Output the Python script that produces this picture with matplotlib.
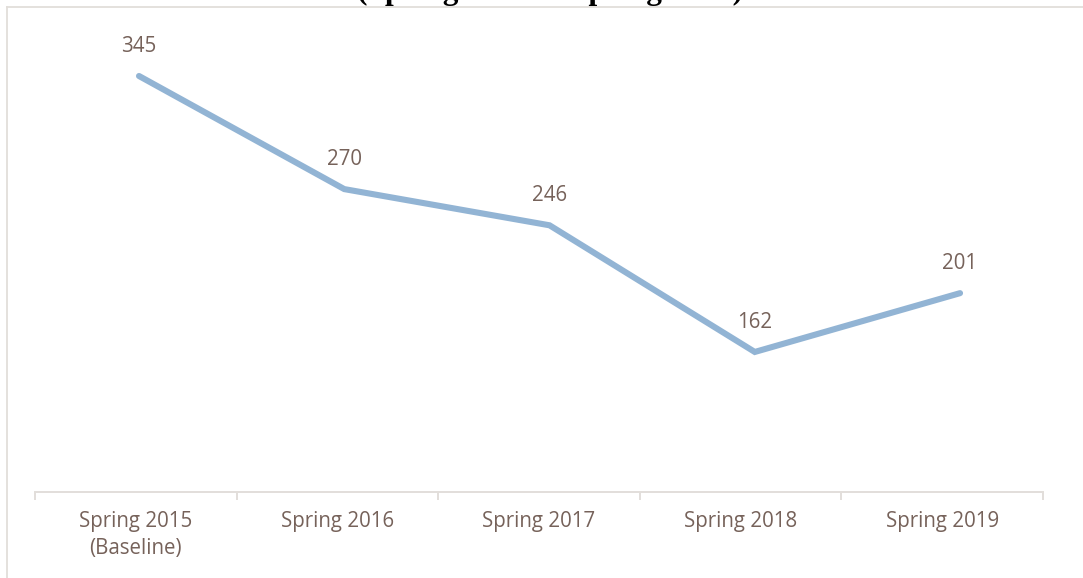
import matplotlib
matplotlib.use("Agg")
import matplotlib.pyplot as plt
from matplotlib.lines import Line2D
import numpy as np

categories = ["Spring 2015\n(Baseline)", "Spring 2016", "Spring 2017", "Spring 2018", "Spring 2019"]
values = [345, 270, 246, 162, 201]
title = "(Spring 2015 to Spring 2019)"

W, H = 1083, 578
TEXT = "#76625A"
LINE = "#92B4D4"
GRID = "#E2DEDA"
FONT = "Open Sans"
FS = 14.8

fig = plt.figure(figsize=(W / 100, H / 100), dpi=100)

# chart border (top and left visible)
fig.add_artist(Line2D([6.7 / W, 1.0], [1 - 7.3 / H, 1 - 7.3 / H], transform=fig.transFigure,
                      color=GRID, lw=1.3))
fig.add_artist(Line2D([6.7 / W, 6.7 / W], [0, 1 - 7.3 / H], transform=fig.transFigure,
                      color=GRID, lw=1.3))

# title, mostly cut off at the top as in the reference
fig.text(550 / W, 1.0 + 1.5 / H, title, ha="center", va="baseline", fontsize=22.6,
         fontweight="bold", family="Liberation Serif", color="black")

# category axis
ax = fig.add_axes([35 / W, 86 / H, 1008 / W, 300 / H])
ax.patch.set_alpha(0)
for s in ["top", "left", "right"]:
    ax.spines[s].set_visible(False)
ax.spines["bottom"].set_color(GRID)
ax.spines["bottom"].set_linewidth(1.4)
x = np.arange(len(categories))
ax.set_xlim(-0.5, len(categories) - 0.5)
ax.set_xticks(np.arange(-0.5, len(categories), 1.0))
ax.set_xticklabels([])
ax.tick_params(axis="x", which="major", length=5.8, width=1.4, color=GRID)
ax.set_xticks(x, minor=True)
ax.set_xticklabels(categories, minor=True, fontsize=FS, family=FONT, color=TEXT,
                   linespacing=1.42)
ax.tick_params(axis="x", which="minor", length=0, pad=13.5)
ax.set_yticks([])

# line axes
ax2 = fig.add_axes([0, 0, 1, 1])
ax2.patch.set_alpha(0)
ax2.axis("off")
ax2.set_xlim(-0.6772, 4.599)
ax2.set_ylim(12.1, 395.4)
ax2.plot(x, values, color=LINE, lw=4.4, solid_capstyle="round", solid_joinstyle="miter")
for xi, v in zip(x, values):
    ax2.annotate(str(v), (xi, v), xytext=(0, 17.5), textcoords="offset points",
                 ha="center", va="baseline", fontsize=FS, family=FONT, color=TEXT)

fig.savefig("out.png", dpi=100)
